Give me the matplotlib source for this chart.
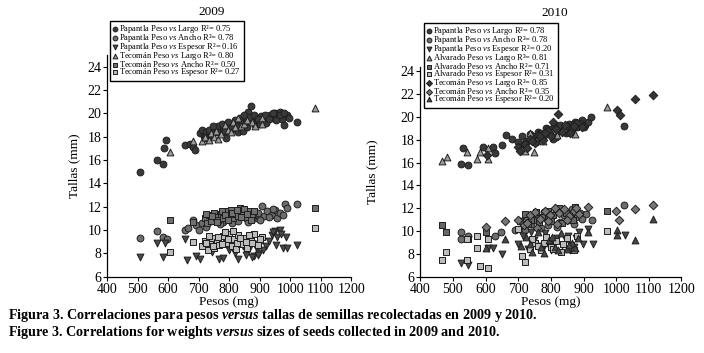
import matplotlib
matplotlib.use("Agg")
import matplotlib.pyplot as plt

plt.rcParams["font.family"] = ["Liberation Serif", "DejaVu Serif"]
plt.rcParams["mathtext.fontset"] = "custom"
plt.rcParams["mathtext.rm"] = "Liberation Serif"
plt.rcParams["mathtext.it"] = "Liberation Serif:italic"
plt.rcParams["mathtext.bf"] = "Liberation Serif:bold"
plt.rcParams["mathtext.bfit"] = "Liberation Serif:italic:bold"

# ---- 2009 ----
pap09_largo_x = [508, 565, 583, 593, 588, 656, 672, 680, 688, 705, 712, 718, 725, 730, 722, 740, 755, 765,
                 772, 780, 790, 800, 808, 815, 822, 830, 838, 845, 852, 860, 863, 872, 878, 885, 890, 898,
                 905, 912, 920, 928, 935, 942, 950, 958, 965, 972, 981, 990, 1022,
                 735, 748, 760, 775, 785, 795, 805, 818, 826, 835, 842, 850, 857, 868, 882, 895, 902, 918,
                 930, 945, 955, 968, 978, 995]
pap09_largo_y = [15.0, 16.0, 15.7, 17.7, 17.0, 17.3, 17.35, 17.1, 16.9, 18.3, 18.6, 18.1, 18.4, 18.0, 17.9,
                 18.2, 18.5, 18.9, 18.3, 18.8, 17.9, 18.6, 19.0, 18.7, 19.2, 18.4, 19.0, 18.5, 19.3, 19.1,
                 20.1, 20.6, 19.5, 19.0, 19.6, 19.3, 19.8, 19.4, 19.2, 19.7, 19.9, 19.6, 20.0, 19.8, 20.1,
                 19.5, 19.0, 19.9, 19.25,
                 18.6, 18.9, 18.4, 19.1, 18.5, 19.3, 18.8, 19.4, 18.9, 19.6, 19.2, 19.9, 18.8, 19.7, 19.9,
                 19.5, 19.1, 19.9, 19.5, 20.0, 19.4, 19.9, 20.0, 19.6]
pap09_ancho_x = [508, 565, 585, 595, 656, 665, 680, 690, 700, 712, 725, 740, 760, 780, 800, 820, 840, 855,
                 870, 885, 895, 907, 915, 925, 940, 950, 958, 965, 975, 983, 990, 1022,
                 770, 810, 830, 862, 878, 900, 932, 945]
pap09_ancho_y = [9.3, 9.9, 9.4, 9.2, 10.0, 10.2, 10.9, 10.4, 10.0, 10.6, 10.3, 10.8, 11.0, 10.7, 11.1, 10.9,
                 11.3, 11.0, 11.4, 11.0, 11.5, 12.1, 11.2, 11.6, 11.3, 11.7, 11.0, 11.5, 11.3, 12.2, 11.9, 12.2,
                 10.5, 10.6, 10.8, 10.7, 11.1, 10.9, 11.1, 11.8]
pap09_esp_x = [508, 563, 585, 590, 656, 662, 690, 703, 725, 745, 766, 780, 800, 818, 830, 845, 860, 870,
               880, 890, 898, 905, 920, 940, 950, 958, 965, 975, 985, 1022,
               855, 865, 875, 885, 895, 910, 930, 945, 955, 970, 990]
pap09_esp_y = [7.7, 8.9, 7.7, 8.9, 9.2, 7.4, 7.8, 7.5, 8.6, 8.1, 7.5, 7.6, 8.3, 8.0, 7.5, 8.6, 8.2, 8.9,
               7.8, 8.4, 8.0, 9.1, 8.6, 9.6, 9.9, 9.4, 10.0, 8.5, 9.4, 8.7,
               7.9, 8.4, 7.7, 8.8, 7.9, 8.3, 9.1, 9.8, 8.7, 9.7, 8.5]
tec09_largo_x = [607, 680, 710, 720, 735, 742, 750, 758, 765, 772, 787, 795, 805, 812, 820, 830, 838, 848,
                 860, 874, 885, 907, 907, 1080]
tec09_largo_y = [16.7, 17.6, 17.6, 18.0, 17.7, 18.3, 18.0, 18.5, 17.8, 18.2, 19.0, 18.6, 18.4, 19.3, 18.8,
                 19.6, 18.9, 19.1, 19.4, 19.3, 18.9, 19.6, 19.1, 20.5]
tec09_ancho_x = [607, 680, 720, 728, 735, 742, 750, 758, 765, 772, 780, 790, 798, 805, 812, 820, 828, 836,
                 845, 855, 865, 875, 1080,
                 725, 745, 760, 775, 785, 795, 810, 825, 840, 850, 860, 870, 880]
tec09_ancho_y = [10.85, 10.7, 11.0, 10.6, 11.3, 10.8, 11.5, 11.1, 10.9, 11.4, 11.0, 11.6, 11.2, 11.7, 11.0,
                 11.4, 11.2, 11.85, 11.5, 11.1, 11.6, 11.3, 11.9,
                 11.4, 11.2, 10.7, 11.6, 11.3, 10.9, 11.5, 11.7, 11.1, 11.8, 11.4, 10.9, 11.6]
tec09_esp_x = [607, 680, 712, 722, 730, 738, 745, 752, 760, 768, 780, 790, 800, 808, 815, 822, 830, 840,
               850, 860, 870, 880, 895, 907, 1080,
               725, 735, 748, 763, 775, 787, 797, 812, 825, 835, 855, 866, 875, 900]
tec09_esp_y = [8.1, 9.0, 8.6, 9.1, 8.3, 8.8, 9.3, 8.5, 9.0, 8.7, 9.5, 8.9, 9.7, 8.6, 9.2, 8.4, 9.6, 8.8,
               9.3, 8.5, 9.1, 9.7, 8.7, 9.4, 10.2,
               8.9, 9.5, 8.6, 9.4, 8.8, 9.8, 9.2, 9.9, 8.9, 9.3, 9.0, 9.6, 8.9, 9.2]

# ---- 2010 ----
pap10_largo_x = [526, 546, 531, 592, 623, 628, 650, 664, 680, 700, 712, 725, 735, 748, 760, 772, 785, 798,
                 810, 817, 825, 835, 845, 855, 865, 875, 885, 895, 905, 915, 924, 1024,
                 718, 742, 755, 768, 780, 792, 805, 828, 840, 850, 870, 880, 890, 900]
pap10_largo_y = [15.9, 15.8, 17.3, 17.4, 17.4, 16.8, 17.5, 18.4, 18.1, 17.8, 18.3, 17.9, 18.5, 18.0, 18.7,
                 18.2, 19.0, 18.5, 19.3, 18.25, 18.8, 19.1, 18.6, 19.4, 19.0, 19.6, 19.2, 19.7, 19.3, 19.6,
                 20.0, 19.2,
                 17.6, 18.3, 17.8, 18.6, 18.4, 18.9, 18.1, 19.3, 18.9, 19.0, 19.4, 19.1, 19.5, 19.1]
pap10_ancho_x = [526, 526, 546, 628, 648, 690, 705, 715, 728, 740, 752, 765, 778, 790, 802, 815, 828, 840,
                 852, 865, 878, 890, 908, 927, 1024,
                 720, 745, 770, 795, 820, 845, 870, 895]
pap10_ancho_y = [9.9, 9.3, 9.6, 9.6, 9.9, 10.1, 10.9, 10.4, 11.2, 10.6, 11.5, 10.9, 11.7, 10.5, 11.3, 11.8,
                 10.8, 11.4, 11.0, 11.9, 11.2, 11.6, 11.5, 11.0, 12.3,
                 10.1, 11.0, 10.3, 11.2, 10.4, 11.7, 10.6, 11.1]
pap10_esp_x = [524, 546, 608, 624, 651, 700, 715, 730, 748, 765, 782, 800, 818, 835, 852, 870, 885, 897,
               914, 930, 1027,
               740, 775, 790, 810, 845, 860, 878]
pap10_esp_y = [7.2, 7.0, 8.5, 8.5, 8.0, 8.9, 9.6, 8.4, 9.2, 8.7, 9.8, 8.3, 9.4, 8.8, 9.6, 8.6, 9.9, 8.9,
               10.15, 8.9, 9.7,
               9.9, 8.5, 9.1, 8.9, 9.2, 8.3, 9.4]
alv10_largo_x = [465, 482, 544, 575, 582, 606, 608, 720, 735, 749, 760, 775, 790, 805, 820, 840, 855, 874, 973]
alv10_largo_y = [16.1, 16.5, 16.9, 16.35, 16.95, 17.3, 16.35, 17.0, 18.6, 16.95, 18.2, 17.9, 18.5, 18.9,
                 18.4, 19.0, 18.7, 18.5, 20.9]
alv10_ancho_x = [465, 480, 545, 600, 705, 720, 738, 755, 772, 790, 808, 825, 845, 862, 874, 973,
                 730, 765, 800, 835, 868]
alv10_ancho_y = [10.5, 9.95, 9.3, 9.9, 10.9, 11.5, 11.0, 11.7, 11.2, 11.8, 11.4, 12.0, 11.6, 11.2, 12.1, 11.8,
                 10.6, 10.8, 10.9, 10.7, 11.0]
alv10_esp_x = [465, 480, 544, 544, 575, 575, 583, 606, 608, 698, 713, 722, 735, 752, 770, 785, 800, 815,
               830, 848, 862, 880, 973,
               742, 760, 778, 808, 838, 870]
alv10_esp_y = [7.5, 8.2, 7.5, 9.35, 9.6, 8.5, 6.95, 9.3, 6.8, 10.15, 7.8, 7.3, 8.4, 9.0, 8.3, 9.5, 8.6, 9.1,
               8.2, 9.4, 8.8, 9.6, 10.0,
               9.3, 8.7, 9.0, 8.4, 8.9, 8.3]
tec10_largo_x = [604, 700, 705, 720, 735, 750, 762, 775, 790, 800, 808, 822, 835, 850, 865, 880, 895, 1001,
                 1012, 1058, 1114,
                 728, 742, 768, 783, 815, 842, 858, 872]
tec10_largo_y = [16.7, 17.4, 17.0, 17.6, 18.1, 17.7, 18.4, 18.0, 18.8, 18.3, 19.6, 20.3, 18.7, 19.2, 18.9,
                 19.5, 19.1, 20.6, 20.15, 21.6, 21.9,
                 17.3, 17.9, 18.3, 18.6, 18.9, 19.3, 18.6, 19.2]
tec10_ancho_x = [602, 661, 700, 718, 735, 750, 768, 782, 798, 812, 825, 840, 855, 870, 885, 914, 999, 1008,
                 1059, 1114,
                 726, 758, 790, 818, 848, 878]
tec10_ancho_y = [10.4, 10.9, 11.0, 10.5, 11.4, 11.7, 11.1, 11.8, 11.4, 12.0, 11.6, 11.9, 11.3, 11.8, 11.5,
                 12.1, 11.8, 11.0, 11.9, 12.3,
                 10.7, 10.3, 10.9, 10.6, 11.0, 12.0]
tec10_esp_x = [602, 661, 710, 725, 742, 760, 778, 795, 812, 830, 848, 865, 882, 914, 1004, 1004, 1059, 1114,
               735, 770, 803, 822, 856, 875]
tec10_esp_y = [8.5, 9.3, 8.7, 9.5, 8.2, 9.9, 8.1, 9.2, 8.6, 9.8, 8.4, 9.0, 9.4, 9.9, 10.1, 9.7, 9.2, 11.1,
               8.9, 8.6, 9.5, 8.3, 8.8, 8.5]

VS = r"$\it{vs}$"
series09 = [
    (pap09_largo_x, pap09_largo_y, "o", "#3a3a3a", f"Papantla Peso {VS} Largo R²= 0.75"),
    (pap09_ancho_x, pap09_ancho_y, "o", "#6e6e6e", f"Papantla Peso {VS} Ancho R²= 0.78"),
    (pap09_esp_x, pap09_esp_y, "v", "#4a4a4a", f"Papantla Peso {VS} Espesor R²= 0.16"),
    (tec09_largo_x, tec09_largo_y, "^", "#9c9c9c", f"Tecomán Peso {VS} Largo R²= 0.80"),
    (tec09_ancho_x, tec09_ancho_y, "s", "#707070", f"Tecomán Peso {VS} Ancho R²= 0.50"),
    (tec09_esp_x, tec09_esp_y, "s", "#bcbcbc", f"Tecomán Peso {VS} Espesor R²= 0.27"),
]
series10 = [
    (pap10_largo_x, pap10_largo_y, "o", "#3a3a3a", f"Papantla Peso {VS} Largo R²= 0.78"),
    (pap10_ancho_x, pap10_ancho_y, "o", "#6e6e6e", f"Papantla Peso {VS} Ancho R²= 0.78"),
    (pap10_esp_x, pap10_esp_y, "v", "#4a4a4a", f"Papantla Peso {VS} Espesor R²= 0.20"),
    (alv10_largo_x, alv10_largo_y, "^", "#9c9c9c", f"Alvarado Peso {VS} Largo R²= 0.81"),
    (alv10_ancho_x, alv10_ancho_y, "s", "#666666", f"Alvarado Peso {VS} Ancho R²= 0.71"),
    (alv10_esp_x, alv10_esp_y, "s", "#bcbcbc", f"Alvarado Peso {VS} Espesor R²= 0.31"),
    (tec10_largo_x, tec10_largo_y, "D", "#353535", f"Tecomán Peso {VS} Largo R²= 0.85"),
    (tec10_ancho_x, tec10_ancho_y, "D", "#777777", f"Tecomán Peso {VS} Ancho R²= 0.35"),
    (tec10_esp_x, tec10_esp_y, "^", "#474747", f"Tecomán Peso {VS} Espesor R²= 0.20"),
]

fig = plt.figure(figsize=(7.04, 3.53), dpi=100)
ax1 = fig.add_axes([0.152, 0.216, 0.347, 0.628])
ax2 = fig.add_axes([0.597, 0.216, 0.371, 0.595])


def draw_panel(ax, series, ymax, leg_anchor, ylab_x):
    for xs, ys, mk, col, lab in series:
        size = 24 if mk != "D" else 19
        ax.scatter(xs, ys, marker=mk, s=size, c=col, edgecolors="#1e1e1e", linewidths=0.7,
                   label=lab, zorder=3)
    ax.set_xlim(400, 1200)
    ax.set_ylim(6, ymax)
    ax.set_xticks(range(400, 1201, 100))
    ax.set_yticks(range(6, 25, 2))
    for s in ("top", "right"):
        ax.spines[s].set_visible(False)
    for s in ("left", "bottom"):
        ax.spines[s].set_linewidth(0.9)
    ax.tick_params(direction="out", length=3, width=0.8, labelsize=10)
    ax.tick_params(axis="x", pad=1.5)
    ax.tick_params(axis="y", pad=1)
    ax.set_xlabel("Pesos (mg)", fontsize=9.5, labelpad=0)
    ax.set_ylabel("Tallas (mm)", fontsize=9.5)
    ax.yaxis.set_label_coords(ylab_x, 0.5)
    leg = ax.legend(loc="upper left", bbox_to_anchor=leg_anchor, bbox_transform=fig.transFigure,
                    fontsize=6.1, markerscale=0.7, handlelength=0.6, handletextpad=0.2,
                    labelspacing=-0.36, borderpad=0.3, borderaxespad=0, frameon=True,
                    fancybox=False, framealpha=1)
    leg.get_frame().set_edgecolor("black")
    leg.get_frame().set_linewidth(1.0)
    leg.set_zorder(10)


draw_panel(ax1, series09, 25, (0.156, 0.941), -0.11)
draw_panel(ax2, series10, 24.4, (0.602, 0.935), -0.162)

fig.text(0.301, 0.966, "2009", ha="center", va="center", fontsize=9.5)
fig.text(0.788, 0.963, "2010", ha="center", va="center", fontsize=9.5)

fig.text(0.011, 0.106, r"Figura 3. Correlaciones para pesos $\mathbfit{versus}$ tallas de semillas recolectadas en 2009 y 2010.",
         fontsize=10.2, fontweight="bold", va="center")
fig.text(0.011, 0.058, r"Figure 3. Correlations for weights $\mathbfit{versus}$ sizes of seeds collected in 2009 and 2010.",
         fontsize=10.2, fontweight="bold", va="center")

fig.savefig("out.png", dpi=100)
